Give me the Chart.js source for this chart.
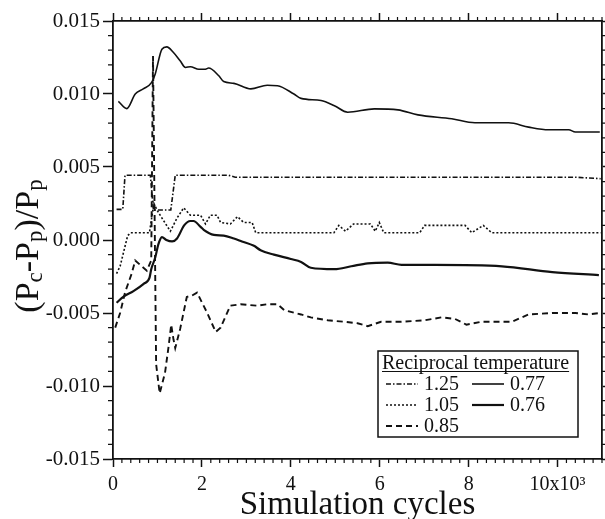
<!DOCTYPE html>
<html>
<head>
<meta charset="utf-8">
<script src="https://cdn.jsdelivr.net/npm/chart.js@4.4.1/dist/chart.umd.min.js"></script>
<style>
  body { margin: 0; background: #fff; }
  canvas { display: block; }
</style>
</head>
<body>
<canvas id="chart" width="605" height="519"></canvas>
<script>
// Valeurs (x en milliers de cycles)
const labels = ['1.25', '1.05', '0.85', '0.77', '0.76'];

const x125 = [0.08, 0.22, 0.27, 0.84, 0.91, 1.30, 1.40, 2.60, 2.75, 10.40, 10.97];
const y125 = [0.0021, 0.0021, 0.00443, 0.00443, 0.00205, 0.00205, 0.00443, 0.00443, 0.0043, 0.0043, 0.0042];

const x105 = [0.08, 0.16, 0.33, 0.40, 0.82, 0.92, 1.00, 1.06, 1.29, 1.44, 1.59, 1.74, 1.97, 2.08, 2.19, 2.34, 2.42, 2.64, 2.80, 2.94, 3.13, 3.21,
              4.97, 5.08, 5.23, 5.41, 5.79, 5.90, 5.99, 6.09, 6.90, 7.01, 7.92, 8.07, 8.33, 8.52, 10.97];
const y105 = [-0.0023, -0.0018, 0.0003, 0.0005, 0.0005, 0.0025, 0.0020, 0.0017, 0.0006, 0.0015, 0.0022, 0.0017, 0.0017, 0.0011, 0.0017, 0.0017, 0.0012, 0.0011, 0.0016, 0.0012, 0.0012, 0.0005,
              0.0005, 0.0010, 0.0006, 0.0011, 0.0011, 0.0006, 0.0012, 0.0005, 0.0005, 0.0010, 0.0010, 0.0005, 0.0010, 0.0005, 0.0005];

const x085 = [0.05, 0.16, 0.27, 0.42, 0.50, 0.61, 0.76, 0.86, 0.90, 0.97, 1.05, 1.17, 1.25, 1.31, 1.36, 1.40, 1.51, 1.66, 1.78, 1.89, 2.12, 2.31, 2.42, 2.64,
              2.87, 3.25, 3.47, 3.70, 3.85, 4.23, 4.45, 4.83, 5.20, 5.50, 5.73, 6.03, 6.49, 7.01, 7.39, 7.69, 7.95, 8.29, 8.97, 9.35, 9.88, 10.40, 10.70, 10.95];
const y085 = [-0.0060, -0.0050, -0.0036, -0.0023, -0.0014, -0.0017, -0.0021, -0.0014, 0.0126, -0.0085, -0.0105, -0.0091, -0.0073, -0.0058, -0.0068, -0.0074, -0.0061, -0.0039, -0.0038, -0.0036, -0.0050, -0.0063, -0.0060, -0.0045,
              -0.0044, -0.0045, -0.0044, -0.0044, -0.0048, -0.0051, -0.0053, -0.0055, -0.0056, -0.0057, -0.0059, -0.0056, -0.0056, -0.0055, -0.0053, -0.0054, -0.0058, -0.0056, -0.0056, -0.0051, -0.0050, -0.0050, -0.0051, -0.0050];

const x077 = [0.12, 0.31, 0.50, 0.68, 0.87, 0.95, 1.10, 1.21, 1.36, 1.51, 1.63, 1.74, 1.93, 2.08, 2.15, 2.38, 2.49, 2.72, 3.10, 3.47, 3.70, 4.07, 4.23,
              4.68, 4.98, 5.28, 5.88, 6.41, 6.86, 7.62, 8.14, 8.90, 9.35, 9.80, 10.25, 10.40, 10.95];
const y077 = [0.0095, 0.0090, 0.0100, 0.01035, 0.0108, 0.01137, 0.01307, 0.01323, 0.01284, 0.01228, 0.01182, 0.01187, 0.0117, 0.0117, 0.01178, 0.01125, 0.01085, 0.01073, 0.01035, 0.0106, 0.01057, 0.0100, 0.0097,
              0.00955, 0.0092, 0.00875, 0.00898, 0.00891, 0.00857, 0.0083, 0.00803, 0.00803, 0.00773, 0.00755, 0.00755, 0.0074, 0.0074];

const x076 = [0.08, 0.23, 0.46, 0.69, 0.82, 0.86, 0.95, 1.02, 1.10, 1.20, 1.33, 1.44, 1.60, 1.74, 1.81, 1.97, 2.04, 2.27, 2.49, 2.72, 2.90, 3.17, 3.32, 3.62,
              4.00, 4.23, 4.45, 4.98, 5.36, 5.73, 6.18, 6.49, 7.24, 8.75, 9.88, 10.93];
const y076 = [-0.0043, -0.0039, -0.0035, -0.0030, -0.0026, -0.0020, -0.0012, -0.0003, 0.0002, 0.0000, -0.0001, 0.0001, 0.0010, 0.0013, 0.0013, 0.0009, 0.0007, 0.00035, 0.0003, 0.0001, -0.0001, -0.0004, -0.0007, -0.0010,
              -0.0013, -0.0015, -0.0019, -0.0020, -0.0018, -0.0016, -0.00155, -0.0017, -0.0017, -0.0018, -0.0022, -0.0024];

const xTicks = [0, 2, 4, 6, 8, 10];
const yTicks = [-0.015, -0.010, -0.005, 0.000, 0.005, 0.010, 0.015];

const ink = '#111';
const serif = "'Liberation Serif', 'DejaVu Serif', serif";

Chart.defaults.font.family = serif;
Chart.defaults.color = ink;

function pts(xs, ys) {
    return xs.map((x, i) => ({ x: x, y: ys[i] }));
}

const datasets = [
    { label: labels[0], data: pts(x125, y125), borderDash: [5, 2, 1.5, 2], borderWidth: 1.6, tension: 0 },
    { label: labels[1], data: pts(x105, y105), borderDash: [2, 2], borderWidth: 1.6, tension: 0 },
    { label: labels[2], data: pts(x085, y085), borderDash: [6, 4], borderWidth: 1.9, tension: 0 },
    { label: labels[3], data: pts(x077, y077), borderWidth: 1.6, cubicInterpolationMode: 'monotone' },
    { label: labels[4], data: pts(x076, y076), borderWidth: 2.2, cubicInterpolationMode: 'monotone' }
].map(d => Object.assign({ borderColor: ink, pointRadius: 0, fill: false }, d));

// Petites graduations sur les quatre côtés
const minorTicks = {
    id: 'minorTicks',
    afterDraw(chart) {
        const { ctx, chartArea: a, scales } = chart;
        ctx.save();
        ctx.strokeStyle = ink;
        ctx.lineWidth = 1.2;
        ctx.beginPath();
        for (let k = 0; k <= 55; k++) {
            if (k % 10 === 0) continue;
            const px = scales.x.getPixelForValue(k * 0.2);
            ctx.moveTo(px, a.bottom); ctx.lineTo(px, a.bottom + 4);
            ctx.moveTo(px, a.top); ctx.lineTo(px, a.top - 4);
        }
        for (let k = -15; k <= 15; k++) {
            if (k % 5 === 0) continue;
            const py = scales.y.getPixelForValue(k * 0.001);
            ctx.moveTo(a.left, py); ctx.lineTo(a.left - 5, py);
            ctx.moveTo(a.right, py); ctx.lineTo(a.right + 4, py);
        }
        ctx.stroke();
        ctx.restore();
    }
};

// Titre de l'axe y avec indices
const yTitle = {
    id: 'yTitle',
    afterDraw(chart) {
        const { ctx, chartArea: a } = chart;
        const big = '34px ' + serif;
        const small = '23px ' + serif;
        const parts = [
            ['(P', big, 0], ['c', small, 4], ['-P', big, 0], ['p', small, 4],
            [')/P', big, 0], ['p', small, 4]
        ];
        ctx.save();
        ctx.fillStyle = ink;
        let total = 0;
        parts.forEach(p => { ctx.font = p[1]; total += ctx.measureText(p[0]).width; });
        ctx.translate(38, (a.top + a.bottom) / 2 + 6);
        ctx.rotate(-Math.PI / 2);
        ctx.textBaseline = 'alphabetic';
        let x = -total / 2;
        parts.forEach(p => {
            ctx.font = p[1];
            ctx.fillText(p[0], x, p[2]);
            x += ctx.measureText(p[0]).width;
        });
        ctx.restore();
    }
};

// Légende encadrée en deux colonnes
const boxLegend = {
    id: 'boxLegend',
    afterDraw(chart) {
        const { ctx, chartArea: a } = chart;
        const right = a.right - 24, bottom = a.bottom - 22;
        const left = right - 200, top = bottom - 86;
        ctx.save();
        ctx.fillStyle = '#fff';
        ctx.fillRect(left, top, right - left, bottom - top);
        ctx.strokeStyle = ink;
        ctx.lineWidth = 1.5;
        ctx.strokeRect(left, top, right - left, bottom - top);

        ctx.fillStyle = ink;
        ctx.font = '20px ' + serif;
        ctx.textBaseline = 'alphabetic';
        const title = 'Reciprocal temperature';
        ctx.fillText(title, left + 4, top + 18);
        const tw = ctx.measureText(title).width;
        ctx.lineWidth = 1;
        ctx.beginPath();
        ctx.moveTo(left + 4, top + 20.5); ctx.lineTo(left + 4 + tw, top + 20.5);
        ctx.stroke();

        const slots = [[0, 0, 0], [1, 0, 1], [2, 0, 2], [3, 1, 0], [4, 1, 1]];
        slots.forEach(([i, col, row]) => {
            const ds = chart.data.datasets[i];
            const y = top + 33 + row * 21;
            const x0 = left + 8 + col * 86;
            ctx.setLineDash(ds.borderDash || []);
            ctx.lineWidth = ds.borderWidth;
            ctx.beginPath();
            ctx.moveTo(x0, y); ctx.lineTo(x0 + 32, y);
            ctx.stroke();
            ctx.setLineDash([]);
            ctx.textBaseline = 'middle';
            ctx.fillText(ds.label, x0 + 38, y + 1);
        });
        ctx.restore();
    }
};

const axisLine = { width: 1.8, color: ink };
const tickGrid = (len) => ({ drawOnChartArea: false, tickLength: len, tickWidth: 1.5, tickColor: ink });

new Chart(document.getElementById('chart'), {
    type: 'line',
    data: { datasets: datasets },
    options: {
        responsive: false,
        animation: false,
        layout: { padding: 0 },
        plugins: { legend: { display: false }, tooltip: { enabled: false } },
        scales: {
            x: {
                type: 'linear', position: 'bottom', min: 0, max: 11,
                afterBuildTicks: s => { s.ticks = xTicks.map(v => ({ value: v })); },
                afterFit: s => { s.height = 60; },
                ticks: {
                    padding: 6, font: { size: 20 }, maxRotation: 0,
                    callback: v => v === 10 ? '10x10³' : String(v)
                },
                grid: tickGrid(8),
                border: axisLine,
                title: { display: true, text: 'Simulation cycles', font: { size: 33, lineHeight: 0.8 }, padding: 0 }
            },
            x2: {
                type: 'linear', position: 'top', min: 0, max: 11,
                afterBuildTicks: s => { s.ticks = xTicks.map(v => ({ value: v })); },
                afterFit: s => { s.height = 21; },
                ticks: { display: false },
                grid: tickGrid(8),
                border: axisLine
            },
            y: {
                type: 'linear', position: 'left', min: -0.015, max: 0.015,
                afterBuildTicks: s => { s.ticks = yTicks.map(v => ({ value: v })); },
                afterFit: s => { s.width = 113; },
                ticks: {
                    padding: 3, font: { size: 21 },
                    callback: v => Math.abs(v) < 1e-9 ? '0.000' : v.toFixed(3)
                },
                grid: tickGrid(10),
                border: axisLine
            },
            y2: {
                type: 'linear', position: 'right', min: -0.015, max: 0.015,
                afterBuildTicks: s => { s.ticks = yTicks.map(v => ({ value: v })); },
                afterFit: s => { s.width = 3; },
                ticks: { display: false },
                grid: tickGrid(3),
                border: axisLine
            }
        }
    },
    plugins: [minorTicks, yTitle, boxLegend]
});
</script>
</body>
</html>
